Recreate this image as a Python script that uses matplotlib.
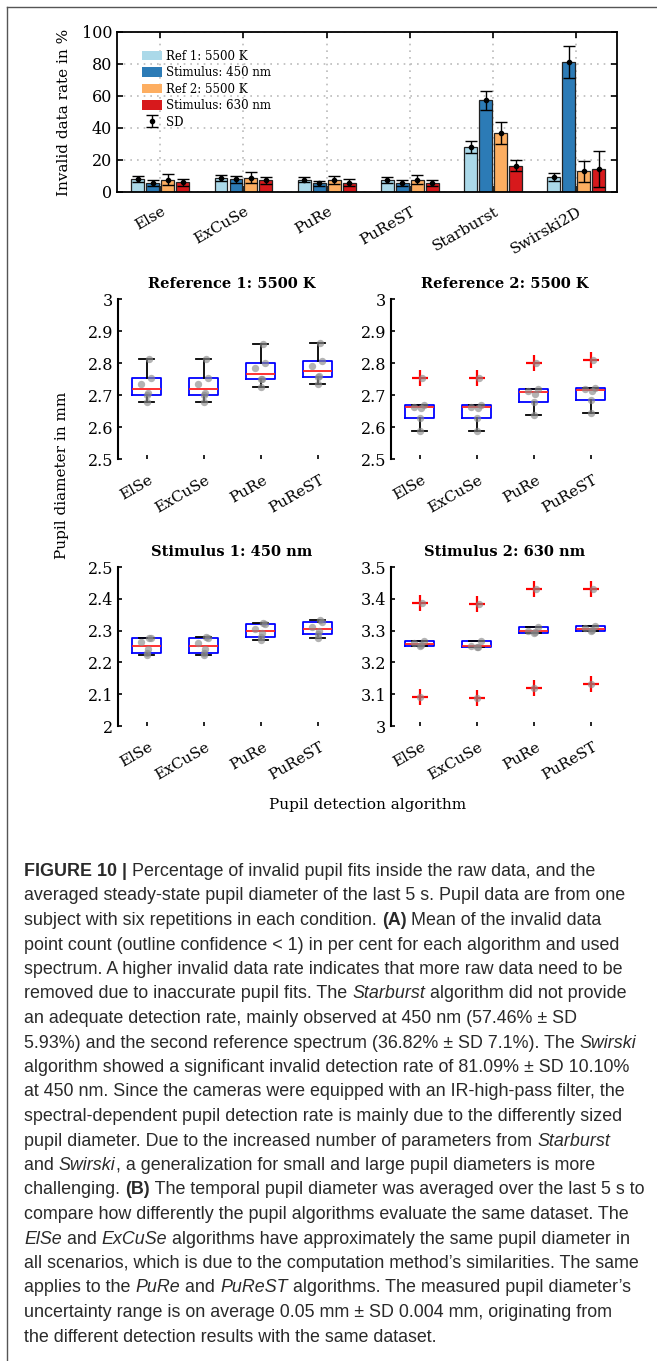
import numpy as np
import matplotlib
matplotlib.use("Agg")
import matplotlib.pyplot as plt
from matplotlib.lines import Line2D
from matplotlib.font_manager import FontProperties
from matplotlib.transforms import ScaledTranslation

W, H = 657, 1361

# bar chart data (A)
algorithms = ["Else", "ExCuSe", "PuRe", "PuReST", "Starburst", "Swirski2D"]
series_names = ["Ref 1: 5500 K", "Stimulus: 450 nm", "Ref 2: 5500 K", "Stimulus: 630 nm"]
series_colors = ["#abd9e9", "#2c7bb6", "#fdae61", "#d7191c"]
ref1_mean = [8.0, 8.5, 7.8, 7.7, 28.0, 9.4]
ref1_sd = [2.0, 1.9, 1.8, 1.8, 3.6, 2.4]
stim450_mean = [5.8, 7.9, 5.5, 5.6, 57.46, 81.09]
stim450_sd = [1.8, 2.2, 1.5, 1.9, 5.93, 10.10]
ref2_mean = [7.8, 9.0, 7.5, 7.6, 36.82, 13.0]
ref2_sd = [3.2, 3.3, 2.7, 2.8, 7.1, 6.6]
stim630_mean = [6.0, 7.3, 5.9, 5.8, 16.5, 14.5]
stim630_sd = [2.3, 2.3, 2.1, 2.0, 3.3, 11.3]

# pupil diameter data (B), six repetitions per algorithm
box_labels = ["ElSe", "ExCuSe", "PuRe", "PuReST"]
ref1_diam = [
    [2.677, 2.701, 2.706, 2.734, 2.753, 2.812],
    [2.678, 2.700, 2.706, 2.734, 2.754, 2.812],
    [2.726, 2.751, 2.751, 2.783, 2.799, 2.860],
    [2.734, 2.757, 2.759, 2.791, 2.807, 2.864],
]
ref2_diam = [
    [2.586, 2.628, 2.658, 2.664, 2.669, 2.754],
    [2.589, 2.628, 2.658, 2.664, 2.669, 2.754],
    [2.639, 2.679, 2.704, 2.714, 2.718, 2.801],
    [2.644, 2.684, 2.714, 2.720, 2.723, 2.810],
]
stim1_diam = [
    [2.222, 2.231, 2.241, 2.263, 2.276, 2.278],
    [2.222, 2.231, 2.243, 2.261, 2.276, 2.281],
    [2.270, 2.281, 2.292, 2.306, 2.321, 2.324],
    [2.277, 2.289, 2.300, 2.310, 2.327, 2.332],
]
stim2_diam = [
    [3.090, 3.253, 3.256, 3.260, 3.268, 3.387],
    [3.087, 3.248, 3.250, 3.252, 3.266, 3.383],
    [3.120, 3.294, 3.297, 3.299, 3.312, 3.432],
    [3.131, 3.299, 3.303, 3.307, 3.314, 3.430],
]
dot_offsets = [0.0, 0.0, 0.03, -0.09, 0.08, 0.05]

caption = [
    [("FIGURE 10 | ", "b"), ("Percentage of invalid pupil fits inside the raw data, and the", "n")],
    [("averaged steady-state pupil diameter of the last 5 s. Pupil data are from one", "n")],
    [("subject with six repetitions in each condition. ", "n"), ("(A)", "b"), (" Mean of the invalid data", "n")],
    [("point count (outline confidence < 1) in per cent for each algorithm and used", "n")],
    [("spectrum. A higher invalid data rate indicates that more raw data need to be", "n")],
    [("removed due to inaccurate pupil fits. The ", "n"), ("Starburst", "i"), (" algorithm did not provide", "n")],
    [("an adequate detection rate, mainly observed at 450 nm (57.46% \u00b1 SD", "n")],
    [("5.93%) and the second reference spectrum (36.82% \u00b1 SD 7.1%). The ", "n"), ("Swirski", "i")],
    [("algorithm showed a significant invalid detection rate of 81.09% \u00b1 SD 10.10%", "n")],
    [("at 450 nm. Since the cameras were equipped with an IR-high-pass filter, the", "n")],
    [("spectral-dependent pupil detection rate is mainly due to the differently sized", "n")],
    [("pupil diameter. Due to the increased number of parameters from ", "n"), ("Starburst", "i")],
    [("and ", "n"), ("Swirski", "i"), (", a generalization for small and large pupil diameters is more", "n")],
    [("challenging. ", "n"), ("(B)", "b"), (" The temporal pupil diameter was averaged over the last 5 s to", "n")],
    [("compare how differently the pupil algorithms evaluate the same dataset. The", "n")],
    [("ElSe", "i"), (" and ", "n"), ("ExCuSe", "i"), (" algorithms have approximately the same pupil diameter in", "n")],
    [("all scenarios, which is due to the computation method\u2019s similarities. The same", "n")],
    [("applies to the ", "n"), ("PuRe", "i"), (" and ", "n"), ("PuReST", "i"), (" algorithms. The measured pupil diameter\u2019s", "n")],
    [("uncertainty range is on average 0.05 mm \u00b1 SD 0.004 mm, originating from", "n")],
    [("the different detection results with the same dataset.", "n")],
]

plt.rcParams["font.family"] = "DejaVu Serif"
fig = plt.figure(figsize=(W / 100, H / 100), dpi=100)


def px_axes(left, top, right, bottom):
    return fig.add_axes([left / W, 1 - bottom / H, (right - left) / W, (bottom - top) / H])


def shift_labels(labels, dx_px):
    for lab in labels:
        lab.set_transform(lab.get_transform() + ScaledTranslation(dx_px / 100, 0, fig.dpi_scale_trans))


# ---- (A) bar chart ----
ax = px_axes(117, 32, 617, 192)
x = np.arange(len(algorithms))
offsets = [-0.27, -0.09, 0.09, 0.27]
means = [ref1_mean, stim450_mean, ref2_mean, stim630_mean]
sds = [ref1_sd, stim450_sd, ref2_sd, stim630_sd]
for i in range(4):
    ax.bar(x + offsets[i], means[i], width=0.155, color=series_colors[i],
           edgecolor="#222222", linewidth=0.9, label=series_names[i], zorder=2)
for i in range(4):
    eb = ax.errorbar(x + offsets[i], means[i], yerr=sds[i], fmt=".", color="black",
                     markersize=6, capsize=4.6, elinewidth=1.0, capthick=1.0, zorder=3)
eb.set_label("SD")
ax.set_xlim(-0.52, 5.49)
ax.set_ylim(0, 100)
ax.set_yticks([0, 20, 40, 60, 80, 100])
ax.set_xticks(x)
ax.set_xticklabels(algorithms, rotation=30, ha="right", fontsize=11)
ax.tick_params(axis="y", labelsize=11.5)
ax.tick_params(direction="in", top=True, right=True, length=4, width=1.2)
ax.tick_params(axis="x", pad=9)
shift_labels(ax.get_xticklabels(), 8)
ax.grid(True, linestyle=(0, (1, 3)), color="#bbbbbb", linewidth=1.2, zorder=0)
ax.set_axisbelow(True)
for s in ax.spines.values():
    s.set_linewidth(1.3)
ax.set_ylabel("Invalid data rate in %", fontsize=11, labelpad=8)
leg = ax.legend(loc="upper left", bbox_to_anchor=(0.04, 0.92), frameon=False, fontsize=8.5,
                handlelength=1.7, handleheight=0.85, labelspacing=0.3, borderaxespad=0.0,
                handletextpad=0.35)
for p in leg.get_patches():
    p.set_edgecolor("none")


# ---- (B) box plots ----
def box_stats(data):
    stats = []
    for d in data:
        d = np.sort(d)
        q1, q3 = d[1], d[4]
        iqr = q3 - q1
        lo, hi = q1 - 1.5 * iqr, q3 + 1.5 * iqr
        stats.append(dict(med=np.median(d), q1=q1, q3=q3,
                          whislo=d[d >= lo].min(), whishi=d[d <= hi].max(),
                          fliers=d[(d < lo) | (d > hi)]))
    return stats


def box_panel(rect, data, title, ylim, yticks, yticklabels):
    a = px_axes(*rect)
    a.bxp(box_stats(data), positions=[1, 2, 3, 4], widths=0.5, capwidths=0.25,
          boxprops=dict(color="#0000ff", linewidth=1.3),
          medianprops=dict(color="#ff2020", linewidth=1.3),
          whiskerprops=dict(color="black", linewidth=1.3),
          capprops=dict(color="black", linewidth=1.3),
          flierprops=dict(marker="+", markeredgecolor="#ff0000", markersize=11,
                          markeredgewidth=1.6))
    for k, d in enumerate(data):
        a.scatter(k + 1 + np.array(dot_offsets), np.sort(d), s=28, color="#8a8a8a",
                  alpha=0.65, linewidths=0, zorder=4)
    a.set_xlim(0.5, 4.5)
    a.set_ylim(*ylim)
    a.set_yticks(yticks)
    a.set_yticklabels(yticklabels, fontsize=11.5)
    a.set_xticks([1, 2, 3, 4])
    a.set_xticklabels(box_labels, rotation=30, ha="right", fontsize=11)
    a.tick_params(direction="in", length=3, width=1.2)
    a.tick_params(axis="x", pad=10)
    shift_labels(a.get_xticklabels(), 9)
    for side in ["top", "right", "bottom"]:
        a.spines[side].set_visible(False)
    a.spines["left"].set_linewidth(1.5)
    a.set_title(title, fontsize=10.5, fontweight="bold", pad=8)
    return a


t1 = [2.5, 2.6, 2.7, 2.8, 2.9, 3.0]
box_panel((118, 299, 346, 459), ref1_diam, "Reference 1: 5500 K", (2.5, 3.0), t1,
          ["2.5", "2.6", "2.7", "2.8", "2.9", "3"])
box_panel((391, 299, 619, 459), ref2_diam, "Reference 2: 5500 K", (2.5, 3.0), t1,
          ["2.5", "2.6", "2.7", "2.8", "2.9", "3"])
box_panel((118, 567, 346, 726), stim1_diam, "Stimulus 1: 450 nm", (2.0, 2.5),
          [2.0, 2.1, 2.2, 2.3, 2.4, 2.5], ["2", "2.1", "2.2", "2.3", "2.4", "2.5"])
box_panel((391, 567, 619, 726), stim2_diam, "Stimulus 2: 630 nm", (3.0, 3.5),
          [3.0, 3.1, 3.2, 3.3, 3.4, 3.5], ["3", "3.1", "3.2", "3.3", "3.4", "3.5"])

fig.text(62 / W, 1 - 475 / H, "Pupil diameter in mm", rotation=90, fontsize=11,
         ha="center", va="center")
fig.text(368 / W, 1 - 805 / H, "Pupil detection algorithm", fontsize=11,
         ha="center", va="center")

# frame around the figure panel
fig.add_artist(Line2D([7 / W, 7 / W], [0, 1 - 7 / H], transform=fig.transFigure,
                      color="#555555", linewidth=1.0))
fig.add_artist(Line2D([7 / W, 1], [1 - 7 / H, 1 - 7 / H], transform=fig.transFigure,
                      color="#555555", linewidth=1.0))

# ---- caption ----
renderer = fig.canvas.get_renderer()
cap_size = 12.9
styles = {
    "n": FontProperties(family="Liberation Sans", size=cap_size),
    "b": FontProperties(family="Liberation Sans", size=cap_size, weight="bold"),
    "i": FontProperties(family="Liberation Sans", size=cap_size, style="italic"),
}


def seg_width(s, fp):
    w1 = renderer.get_text_width_height_descent(s + "x", fp, ismath=False)[0]
    w0 = renderer.get_text_width_height_descent("x", fp, ismath=False)[0]
    return w1 - w0


y0, dy = 876, 24.5
for n, line in enumerate(caption):
    xpos = 24
    y = y0 + n * dy
    for s, st in line:
        fig.text(xpos / W, 1 - y / H, s, fontproperties=styles[st], color="#2a2a2a",
                 va="baseline", ha="left")
        xpos += seg_width(s, styles[st])

fig.savefig("out.png", dpi=100)
